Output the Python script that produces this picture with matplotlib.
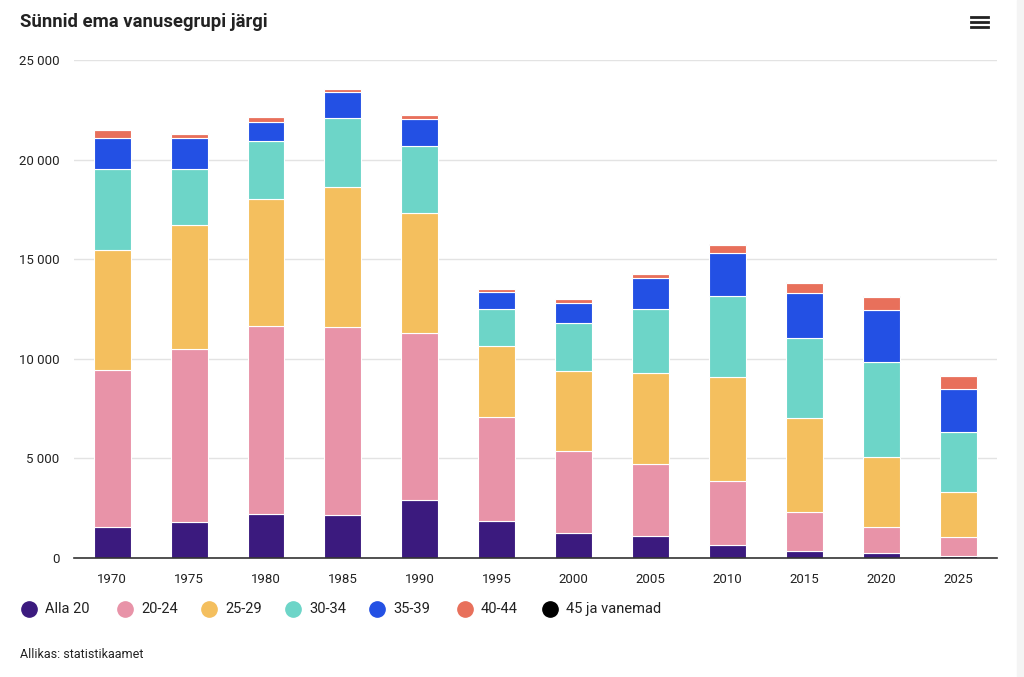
import numpy as np
import matplotlib.pyplot as plt
from matplotlib.lines import Line2D
from matplotlib.ticker import FuncFormatter

plt.rcParams['font.family'] = ['Roboto', 'DejaVu Sans']

# Andmed (loetud pildilt)
aastad = ['1970', '1975', '1980', '1985', '1990', '1995', '2000', '2005', '2010', '2015', '2020', '2025']
alla20 = [1570, 1820, 2210, 2160, 2910, 1870, 1270, 1100, 650, 350, 240, 120]
v20_24 = [7880, 8690, 9450, 9450, 8400, 5190, 4100, 3620, 3220, 1970, 1300, 950]
v25_29 = [6000, 6220, 6350, 7030, 5990, 3600, 4020, 4550, 5230, 4720, 3550, 2260]
v30_34 = [4080, 2800, 2910, 3430, 3380, 1860, 2420, 3250, 4070, 4020, 4760, 2980]
v35_39 = [1570, 1540, 980, 1340, 1340, 820, 1010, 1520, 2140, 2230, 2600, 2170]
v40_44 = [360, 220, 230, 120, 240, 140, 170, 230, 410, 530, 650, 660]
v45 = [30, 30, 20, 10, 10, 10, 10, 20, 30, 40, 50, 50]

seeria = [alla20, v20_24, v25_29, v30_34, v35_39, v40_44, v45]
nimed = ['Alla 20', '20-24', '25-29', '30-34', '35-39', '40-44', '45 ja vanemad']
varvid = ['#3b1a7e', '#e893a8', '#f4bf5e', '#6dd5c8', '#2350e4', '#e8705b', '#000000']

fig = plt.figure(figsize=(10.24, 6.77), dpi=100)
ax = fig.add_axes([0.0719, 0.1758, 0.9017, 0.7356])

x = np.arange(len(aastad))
pohi = np.zeros(len(aastad))
for vaartused, varv in zip(seeria, varvid):
    ax.bar(x, vaartused, width=0.48, bottom=pohi, color=varv,
           edgecolor='white', linewidth=0.8, zorder=3)
    pohi = pohi + np.array(vaartused)

ax.set_xlim(-0.5, len(aastad) - 0.5)
ax.set_ylim(0, 25000)
ax.set_yticks(np.arange(0, 25001, 5000))
ax.yaxis.set_major_formatter(FuncFormatter(lambda v, p: f'{int(v):,}'.replace(',', ' ')))
ax.set_xticks(x)
ax.set_xticklabels(aastad)
ax.grid(axis='y', color='#e3e3e3', linewidth=1, zorder=0)
for s in ['top', 'right', 'left']:
    ax.spines[s].set_visible(False)
ax.spines['bottom'].set_color('#333333')
ax.spines['bottom'].set_linewidth(1.2)
ax.spines['bottom'].set_zorder(4)
ax.tick_params(axis='y', length=0, pad=10, labelsize=9.5, labelcolor='#222222')
ax.tick_params(axis='x', length=0, pad=11, labelsize=9.5, labelcolor='#222222')

# Pealkiri ja menüü ikoon
fig.text(20 / 1024, 1 - 22 / 677, 'Sünnid ema vanusegrupi järgi', fontsize=13.3,
         fontweight='bold', color='#222222', va='center', ha='left')
for dy in (-5, 0, 5):
    fig.add_artist(Line2D([971 / 1024, 988 / 1024], [1 - (22 + dy) / 677] * 2,
                          color='#222222', linewidth=2, transform=fig.transFigure))

# Legend
leg_x = [29, 125, 209, 293, 377, 465, 550]
for lx, nimi, varv in zip(leg_x, nimed, varvid):
    fig.add_artist(Line2D([lx / 1024], [1 - 609 / 677], marker='o', markersize=11,
                          color=varv, linestyle='none', transform=fig.transFigure))
    fig.text((lx + 16) / 1024, 1 - 609 / 677, nimi, fontsize=10.5, color='#222222',
             va='center', ha='left')

fig.text(20 / 1024, 1 - 654 / 677, 'Allikas: statistikaamet', fontsize=9,
         color='#222222', va='center', ha='left')

fig.add_artist(plt.Rectangle((1017 / 1024, 0), 7 / 1024, 1, color='#f4f4f4',
                             transform=fig.transFigure))

fig.savefig('out.png', dpi=100)
